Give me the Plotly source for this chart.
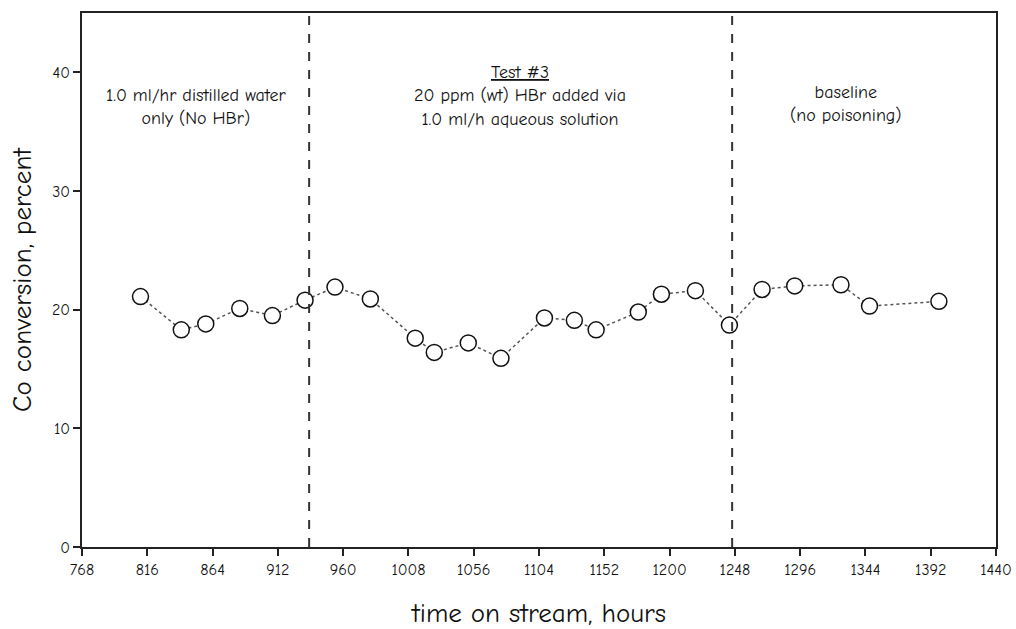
import plotly.graph_objects as go

# Time on stream (hours) and CO conversion (percent)
hours = [811, 841, 859, 884, 908, 932, 954, 980, 1013, 1027, 1052, 1076,
         1108, 1130, 1146, 1177, 1194, 1219, 1244, 1268, 1292, 1326, 1347, 1398]
conversion = [21.1, 18.3, 18.8, 20.1, 19.5, 20.8, 21.9, 20.9, 17.6, 16.4, 17.2, 15.9,
              19.3, 19.1, 18.3, 19.8, 21.3, 21.6, 18.7, 21.7, 22.0, 22.1, 20.3, 20.7]

# Phase boundaries (hours)
phase_breaks = [935, 1246]

x_ticks = list(range(768, 1441, 48))
y_ticks = [0, 10, 20, 30, 40]

FONT = "Comic Sans MS, Comic Neue, DejaVu Sans, sans-serif"

fig = go.Figure()
fig.add_trace(go.Scatter(
    x=hours, y=conversion, mode="lines+markers",
    line=dict(color="#555555", width=1.5, dash="dot"),
    marker=dict(symbol="circle", size=16, color="white",
                line=dict(color="#111111", width=1.5)),
    showlegend=False,
))

for xb in phase_breaks:
    fig.add_shape(type="line", xref="x", yref="y", x0=xb, x1=xb, y0=0, y1=45,
                  line=dict(color="#333333", width=2, dash="dash"))

annotations = [
    dict(x=852, y=37.1, text="1.0 ml/hr distilled water<br>only (No HBr)"),
    dict(x=1090, y=38.0, text="<u>Test #3</u><br>20 ppm (wt) HBr added via<br>1.0 ml/h aqueous solution"),
    dict(x=1330, y=37.3, text="baseline<br>(no poisoning)"),
]
for a in annotations:
    fig.add_annotation(x=a["x"], y=a["y"], text=a["text"], showarrow=False,
                       xref="x", yref="y", align="center",
                       font=dict(family=FONT, size=18, color="#111111"))

axis_common = dict(showline=True, linecolor="#222222", linewidth=1.5, mirror=True,
                   ticks="outside", ticklen=7, tickwidth=1.5, tickcolor="#222222",
                   showgrid=False, zeroline=False,
                   tickfont=dict(family=FONT, size=16, color="#111111"))

fig.update_xaxes(range=[768, 1440], tickvals=x_ticks, automargin=False,
                 ticklabeloverflow="allow",
                 title=dict(text="time on stream, hours",
                            font=dict(family=FONT, size=27, color="#111111"), standoff=25),
                 **axis_common)
fig.update_yaxes(range=[0, 45], tickvals=y_ticks, automargin=False,
                 title=dict(text="Co conversion, percent",
                            font=dict(family=FONT, size=27, color="#111111"), standoff=12),
                 **axis_common)

fig.update_layout(
    width=1016, height=629,
    margin=dict(l=82, r=20, t=13, b=82),
    plot_bgcolor="white", paper_bgcolor="white",
)

fig.write_html("out.html")
